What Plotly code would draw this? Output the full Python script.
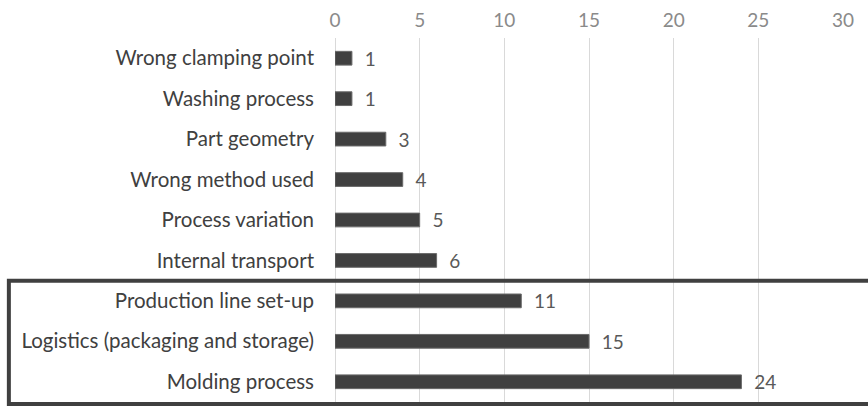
import plotly.graph_objects as go

categories = [
    "Wrong clamping point",
    "Washing process",
    "Part geometry",
    "Wrong method used",
    "Process variation",
    "Internal transport",
    "Production line set-up",
    "Logistics (packaging and storage)",
    "Molding process",
]
values = [1, 1, 3, 4, 5, 6, 11, 15, 24]
x_ticks = [0, 5, 10, 15, 20, 25, 30]

FONT = "Lato"

fig = go.Figure()
fig.add_trace(go.Bar(
    x=values,
    y=categories,
    orientation="h",
    marker=dict(color="#404040", line=dict(color="#6a6a6a", width=1)),
    width=0.34,
    text=values,
    texttemplate="\u00a0\u00a0%{x}",
    textposition="outside",
    constraintext="none",
    textfont=dict(family=FONT, size=19, color="#595959"),
    cliponaxis=False,
    hoverinfo="skip",
))

fig.add_shape(
    type="rect",
    xref="paper", yref="y",
    x0=-0.642, x1=1.1,
    y0=5.5, y1=8.55,
    line=dict(color="#404040", width=4),
    fillcolor="rgba(0,0,0,0)",
    layer="above",
)

fig.update_layout(
    width=868, height=410,
    margin=dict(l=335, r=25, t=38, b=4),
    paper_bgcolor="white",
    plot_bgcolor="white",
    showlegend=False,
    font=dict(family=FONT),
    xaxis=dict(
        side="top",
        range=[0, 30],
        tickvals=x_ticks,
        ticktext=[str(t) for t in x_ticks],
        showgrid=True,
        gridcolor="#d9d9d9",
        gridwidth=1,
        zeroline=True,
        zerolinecolor="#d9d9d9",
        zerolinewidth=1,
        showline=False,
        ticks="",
        ticklabelstandoff=6,
        tickfont=dict(family=FONT, size=19, color="#8a8a8a"),
    ),
    yaxis=dict(
        categoryorder="array",
        categoryarray=categories,
        autorange="reversed",
        showgrid=False,
        zeroline=False,
        showline=False,
        ticks="",
        ticklabelstandoff=20,
        tickfont=dict(family=FONT, size=20.5, color="#404040"),
    ),
)

fig.write_html("out.html")
